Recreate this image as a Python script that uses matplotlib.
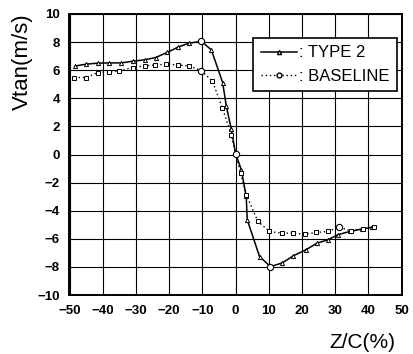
import matplotlib
matplotlib.use("Agg")
from matplotlib import pyplot as plt
from matplotlib.lines import Line2D

# Z/C (%) and tangential velocity (m/s)
type2_zc = [-48.2, -45.0, -41.5, -38.0, -34.4, -30.9, -27.4, -24.1, -20.6, -17.2,
            -13.9, -10.3, -7.3, -3.9, -2.8, -1.3, 0.0, 1.7, 3.2, 3.5, 7.2, 10.5,
            14.0, 17.4, 21.1, 24.5, 27.8, 30.8, 34.3, 37.9, 41.2]
type2_v = [6.30, 6.43, 6.50, 6.52, 6.52, 6.64, 6.74, 6.90, 7.26, 7.66,
           7.93, 8.05, 7.45, 5.12, 3.45, 1.80, 0.05, -1.07, -2.98, -4.64, -7.26, -7.98,
           -7.72, -7.21, -6.79, -6.31, -6.07, -5.71, -5.48, -5.31, -5.17]

base_zc = [-48.5, -45.0, -41.5, -38.0, -35.0, -30.9, -27.4, -24.4, -20.9, -17.4,
           -13.9, -10.3, -7.0, -4.0, -1.3, 0.0, 1.5, 3.2, 6.7, 10.2, 13.9, 17.3,
           20.8, 24.3, 27.8, 31.1, 34.6, 38.2, 41.7]
base_v = [5.48, 5.48, 5.83, 5.88, 5.95, 6.19, 6.31, 6.36, 6.43, 6.36,
          6.31, 5.95, 5.24, 3.33, 1.40, 0.05, -1.30, -2.86, -4.76, -5.48, -5.60, -5.60,
          -5.67, -5.55, -5.48, -5.17, -5.43, -5.31, -5.19]

xticks = [-50, -40, -30, -20, -10, 0, 10, 20, 30, 40, 50]
yticks = [-10, -8, -6, -4, -2, 0, 2, 4, 6, 8, 10]

plt.rcParams['font.family'] = ['Liberation Sans', 'DejaVu Sans']

fig = plt.figure(figsize=(4.14, 3.54), dpi=100)
ax = fig.add_axes([69.5 / 414, 1 - 295 / 354, (401.7 - 69.5) / 414, (295 - 14) / 354])

ax.plot(type2_zc, type2_v, color='black', lw=1.1, marker='^', ms=3,
        mfc='white', mec='black', mew=0.7, zorder=3)
ax.plot(base_zc, base_v, color='black', lw=1.0, ls=(0, (1, 2)), marker='s', ms=3.5,
        mfc='white', mec='black', mew=0.7, zorder=3)
# larger open circles at a few stations
ax.plot([-10.3, 0.0, 10.5], [8.05, 0.05, -7.98], ls='none', marker='o', ms=4.5,
        mfc='white', mec='black', mew=0.8, zorder=4)
ax.plot([-10.3, 31.1], [5.95, -5.17], ls='none', marker='o', ms=4.5,
        mfc='white', mec='black', mew=0.8, zorder=4)

ax.set_xlim(-50, 50)
ax.set_ylim(-10, 10)
ax.set_xticks(xticks)
ax.set_yticks(yticks)
ax.set_xticklabels(['\u2212' + str(-t) if t < 0 else str(t) for t in xticks],
                   fontsize=9.5, fontweight='bold')
ax.set_yticklabels(['\u2212' + str(-t) if t < 0 else str(t) for t in yticks],
                   fontsize=9.5, fontweight='bold')
ax.tick_params(length=0, pad=7)
ax.grid(True, color='black', lw=0.8)
for s in ax.spines.values():
    s.set_linewidth(1.4)

fig.text(22 / 414, 1 - 62 / 354, 'Vtan(m/s)', rotation=90, fontsize=16,
         ha='center', va='center')
fig.text(362 / 414, 1 - 343 / 354, 'Z/C(%)', fontsize=15, ha='center', va='center')

handles = [Line2D([], [], color='black', lw=1.1, marker='^', ms=3, mfc='white', mec='black'),
           Line2D([], [], color='black', lw=1.0, ls=(0, (1, 2)), marker='o', ms=3.5,
                  mfc='white', mec='black')]
leg = ax.legend(handles, [': TYPE 2', ': BASELINE'], loc='upper right',
                bbox_to_anchor=(0.986, 0.915), borderaxespad=0, fontsize=12,
                handlelength=2.2, handletextpad=0.1, borderpad=0.45, labelspacing=0.5,
                fancybox=False, framealpha=1, edgecolor='black')
leg.get_frame().set_linewidth(1.2)

fig.savefig('out.png', dpi=100)
